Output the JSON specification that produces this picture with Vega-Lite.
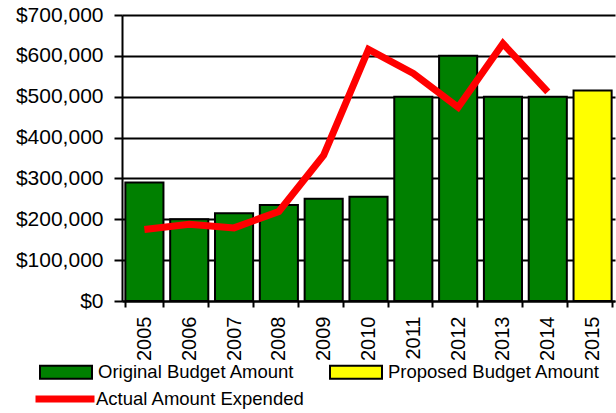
{
  "$schema": "https://vega.github.io/schema/vega-lite/v6.json",
  "width": 493,
  "height": 286,
  "autosize": {"type": "none"},
  "padding": {"left": 122, "top": 15, "right": 1, "bottom": 112},
  "background": "white",
  "config": {
    "font": "Liberation Sans",
    "view": {"stroke": null},
    "legend": {"padding": 0, "labelColor": "black", "labelFont": "Liberation Sans"}
  },
  "data": {
    "values": [
      {"year": "2005", "budget": 290000, "type": "Original Budget Amount", "actual": 175000},
      {"year": "2006", "budget": 200000, "type": "Original Budget Amount", "actual": 188000},
      {"year": "2007", "budget": 215000, "type": "Original Budget Amount", "actual": 179000},
      {"year": "2008", "budget": 235000, "type": "Original Budget Amount", "actual": 219000},
      {"year": "2009", "budget": 250000, "type": "Original Budget Amount", "actual": 357000},
      {"year": "2010", "budget": 255000, "type": "Original Budget Amount", "actual": 616000},
      {"year": "2011", "budget": 500000, "type": "Original Budget Amount", "actual": 557000},
      {"year": "2012", "budget": 600000, "type": "Original Budget Amount", "actual": 474000},
      {"year": "2013", "budget": 500000, "type": "Original Budget Amount", "actual": 630000},
      {"year": "2014", "budget": 500000, "type": "Original Budget Amount", "actual": 512000},
      {"year": "2015", "budget": 515000, "type": "Proposed Budget Amount", "actual": null}
    ]
  },
  "layer": [
    {
      "mark": {"type": "bar", "stroke": "black", "strokeWidth": 2},
      "encoding": {
        "x": {
          "field": "year",
          "type": "ordinal",
          "scale": {"paddingInner": 0.15, "paddingOuter": 0.075},
          "axis": {
            "title": null,
            "labelAngle": -90,
            "labelFontSize": 20,
            "labelColor": "black",
            "tickSize": 6,
            "tickWidth": 2,
            "tickColor": "black",
            "tickBand": "extent",
            "labelPadding": 9,
            "domainColor": "black",
            "domainWidth": 2,
            "grid": false
          }
        },
        "y": {
          "field": "budget",
          "type": "quantitative",
          "scale": {"domain": [0, 700000], "nice": false},
          "axis": {
            "title": null,
            "format": "$,.0f",
            "values": [0, 100000, 200000, 300000, 400000, 500000, 600000, 700000],
            "labelFontSize": 21,
            "labelColor": "black",
            "tickSize": 8,
            "tickWidth": 2,
            "tickColor": "black",
            "labelPadding": 11,
            "domainColor": "black",
            "domainWidth": 2,
            "grid": true,
            "gridColor": "black",
            "gridWidth": 2,
            "gridOpacity": 1
          }
        },
        "fill": {
          "field": "type",
          "type": "nominal",
          "scale": {
            "domain": ["Original Budget Amount", "Proposed Budget Amount"],
            "range": ["#008000", "#FFFF00"]
          },
          "legend": {
            "orient": "none",
            "legendX": -83,
            "legendY": 330,
            "direction": "horizontal",
            "columns": 2,
            "title": null,
            "symbolType": "M-1,-0.25H1V0.25H-1Z",
            "symbolSize": 2704,
            "symbolStrokeColor": "black",
            "symbolStrokeWidth": 2,
            "symbolOpacity": 1,
            "labelFontSize": 18.5,
            "labelOffset": 5,
            "columnPadding": 31,
            "labelLimit": 400
          }
        }
      }
    },
    {
      "transform": [{"filter": "datum.actual != null"}],
      "mark": {"type": "line", "strokeWidth": 7, "strokeJoin": "miter", "strokeCap": "butt"},
      "encoding": {
        "x": {"field": "year", "type": "ordinal"},
        "y": {"field": "actual", "type": "quantitative"},
        "stroke": {
          "datum": "Actual Amount Expended",
          "scale": {"range": ["#FF0000"]},
          "legend": {
            "orient": "none",
            "legendX": -90,
            "legendY": 351,
            "title": null,
            "symbolType": "stroke",
            "symbolSize": 3481,
            "symbolStrokeWidth": 7,
            "labelFontSize": 18.5,
            "labelOffset": -2,
            "labelLimit": 400
          }
        }
      }
    }
  ]
}
